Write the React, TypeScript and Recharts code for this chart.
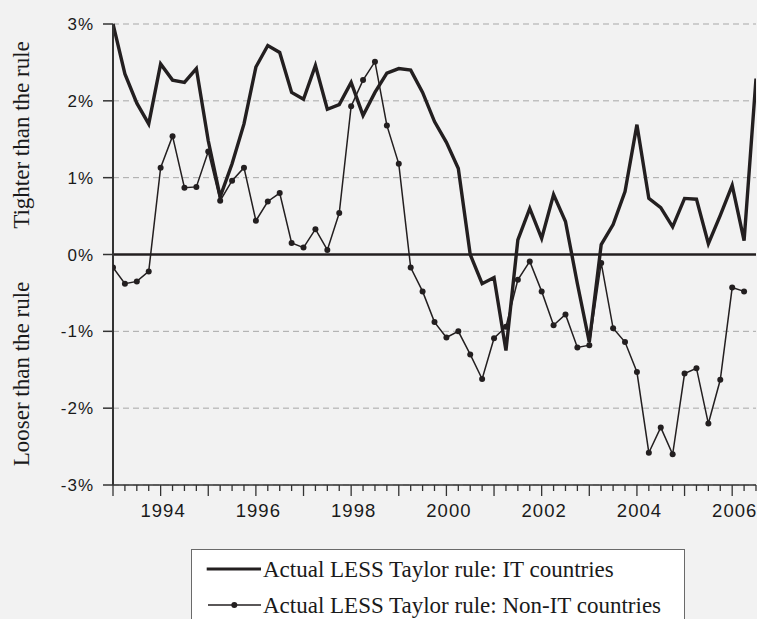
import React from "react";
import {
  LineChart,
  Line,
  XAxis,
  YAxis,
  CartesianGrid,
  ReferenceLine,
  Legend,
} from "recharts";

// Quarterly observations, 1993Q1 .. 2006Q3 (percentage points)
const startYear = 1993;
const itGap = [
  3.0, 2.35, 1.97, 1.7, 2.48, 2.27, 2.24, 2.42, 1.48, 0.75,
  1.18, 1.7, 2.44, 2.72, 2.63, 2.11, 2.02, 2.46, 1.89, 1.95,
  2.24, 1.81, 2.11, 2.36, 2.42, 2.4, 2.11, 1.73, 1.46, 1.12,
  0.0, -0.38, -0.3, -1.25, 0.19, 0.6, 0.21, 0.78, 0.43, -0.38,
  -1.14, 0.13, 0.39, 0.82, 1.69, 0.73, 0.61, 0.36, 0.73, 0.72,
  0.14, 0.51, 0.9, 0.18, 2.29,
];
const nonItGap: (number | null)[] = [
  -0.17, -0.38, -0.35, -0.22, 1.13, 1.54, 0.87, 0.88, 1.34, 0.7,
  0.96, 1.13, 0.44, 0.69, 0.8, 0.15, 0.09, 0.33, 0.06, 0.54,
  1.93, 2.27, 2.51, 1.68, 1.18, -0.17, -0.48, -0.88, -1.08, -1.0,
  -1.3, -1.62, -1.09, -0.94, -0.33, -0.09, -0.48, -0.92, -0.78, -1.21,
  -1.18, -0.11, -0.96, -1.14, -1.53, -2.58, -2.25, -2.6, -1.55, -1.48,
  -2.2, -1.63, -0.43, -0.48, null,
];
const yTicks = [-3, -2, -1, 0, 1, 2, 3];
const yearLabels = [1994, 1996, 1998, 2000, 2002, 2004, 2006];
const seriesNames = [
  "Actual LESS Taylor rule: IT countries",
  "Actual LESS Taylor rule: Non-IT countries",
];
const axisTitles = ["Tighter than the rule", "Looser than the rule"];

const quarterLabels = itGap.map(
  (_, i) => `${startYear + Math.floor(i / 4)}Q${(i % 4) + 1}`
);
const data = itGap.map((v, i) => ({
  i,
  q: quarterLabels[i],
  it: v,
  nonIt: nonItGap[i],
}));
const lastIdx = itGap.length - 1;
const xTickIdx = itGap.map((_, i) => i);

const INK = "#231f20";
const SERIF = "'Liberation Serif', 'Times New Roman', serif";
const SANS = "'Liberation Sans', Arial, sans-serif";

const YTick = (props: any) => {
  const { y, payload } = props;
  const v = payload.value as number;
  return (
    <g>
      <line x1={103} x2={113} y1={y} y2={y} stroke="#333" strokeWidth={1.5} />
      <text
        x={94}
        y={y + 6}
        textAnchor="end"
        fontFamily={SANS}
        fontSize={17}
        letterSpacing={1}
        fill="#1a1a1a"
      >
        {`${v}%`}
      </text>
    </g>
  );
};

const XTick = (props: any) => {
  const { x, payload } = props;
  const idx = payload.value as number;
  const axisY = 485;
  const major = idx % 4 === 0;
  const yr = startYear + idx / 4;
  const showLabel = major && yearLabels.includes(yr);
  return (
    <g>
      <line
        x1={x}
        x2={x}
        y1={axisY}
        y2={axisY + (major ? 11 : 6)}
        stroke="#333"
        strokeWidth={1.3}
      />
      {showLabel && (
        <text
          x={x + 2.5}
          y={516.5}
          textAnchor="middle"
          fontFamily={SANS}
          fontSize={18.5}
          letterSpacing={1}
          fill="#1a1a1a"
        >
          {String(yr)}
        </text>
      )}
    </g>
  );
};

const AxisTitles = () => (
  <g>
    <text
      transform="translate(28.5,135) rotate(-90)"
      textAnchor="middle"
      fontFamily={SERIF}
      fontSize={23}
      fill="#1a1a1a"
    >
      {axisTitles[0]}
    </text>
    <text
      transform="translate(28.5,374) rotate(-90)"
      textAnchor="middle"
      fontFamily={SERIF}
      fontSize={23}
      fill="#1a1a1a"
    >
      {axisTitles[1]}
    </text>
  </g>
);

const LegendBox = () => (
  <div
    style={{
      width: 494,
      height: 80,
      boxSizing: "border-box",
      border: "1px solid #6a6a6a",
      background: "#ffffff",
      position: "relative",
    }}
  >
    <svg width={494} height={80} style={{ position: "absolute", left: -1, top: -1 }}>
      <line x1={15.7} x2={70} y1={20} y2={20} stroke={INK} strokeWidth={3} />
      <text x={72} y={27.7} fontFamily={SERIF} fontSize={23} fill="#1a1a1a">
        {seriesNames[0]}
      </text>
      <line x1={17} x2={70} y1={56} y2={56} stroke={INK} strokeWidth={1.5} />
      <circle cx={43.3} cy={56} r={3} fill={INK} />
      <text x={72} y={63.7} fontFamily={SERIF} fontSize={23} fill="#1a1a1a">
        {seriesNames[1]}
      </text>
    </svg>
  </div>
);

export default function App() {
  return (
    <div
      style={{
        position: "absolute",
        left: 0,
        top: 0,
        width: 757,
        height: 619,
        overflow: "hidden",
        background: "#f2f2f2",
      }}
    >
      <LineChart
        width={757}
        height={619}
        data={data}
        margin={{ top: 24, right: 1, bottom: 94, left: 0 }}
      >
        <CartesianGrid
          vertical={false}
          stroke="#a8a8a8"
          strokeDasharray="6 4"
          strokeWidth={1}
        />
        <XAxis
          type="number"
          dataKey="i"
          domain={[0, lastIdx]}
          ticks={xTickIdx}
          interval={0}
          tick={<XTick />}
          tickLine={false}
          axisLine={{ stroke: "#333", strokeWidth: 1.5 }}
          height={40}
          allowDataOverflow
        />
        <YAxis
          type="number"
          domain={[-3, 3]}
          ticks={yTicks}
          interval={0}
          tick={<YTick />}
          tickLine={false}
          axisLine={{ stroke: "#333", strokeWidth: 2 }}
          width={113}
          label={{ content: () => <AxisTitles /> }}
        />
        <ReferenceLine y={0} stroke={INK} strokeWidth={2.5} />
        <Line
          type="linear"
          dataKey="it"
          stroke={INK}
          strokeWidth={3.4}
          dot={false}
          isAnimationActive={false}
        />
        <Line
          type="linear"
          dataKey="nonIt"
          stroke={INK}
          strokeWidth={1.5}
          dot={{ r: 3, fill: INK, stroke: "none" }}
          isAnimationActive={false}
        />
        <Legend
          layout="horizontal"
          verticalAlign="middle"
          align="center"
          wrapperStyle={{ left: 191, top: 549, width: 494, height: 80 }}
          content={() => <LegendBox />}
        />
      </LineChart>
    </div>
  );
}
